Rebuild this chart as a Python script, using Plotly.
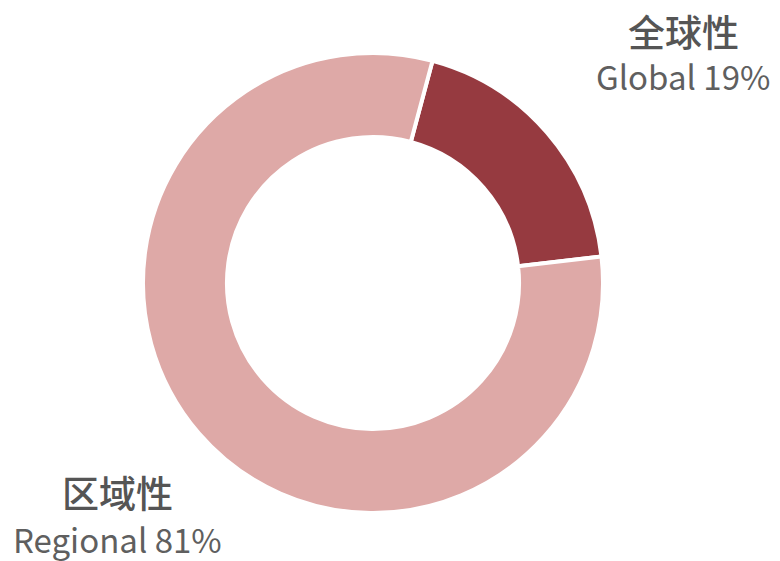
import plotly.graph_objects as go

W, H = 780, 561
OFF = 8  # page offset of the plot in the browser
labels = ["Global", "Regional"]
cn_labels = ["全球性", "区域性"]
values = [19, 81]
colors = ["#963A40", "#DEA9A7"]

cx, cy, R = 373 - OFF, 283 - OFF, 230


def px_x(x):
    return x / W


def px_y(y):
    return 1 - y / H


fig = go.Figure(go.Pie(
    labels=labels, values=values, hole=0.635, sort=False,
    direction="clockwise", rotation=15,
    marker=dict(colors=colors, line=dict(color="white", width=4)),
    textinfo="none", hoverinfo="label+percent", showlegend=False,
    domain=dict(x=[px_x(cx - R), px_x(cx + R)], y=[px_y(cy + R), px_y(cy - R)]),
))

font = "Noto Sans CJK SC, Noto Sans, sans-serif"
pos = [(683, 31, 76), (117, 492, 539)]
for i, (px, y1, y2) in enumerate(pos):
    fig.add_annotation(x=px_x(px - OFF), y=px_y(y1 - OFF), xref="paper", yref="paper",
                       text=cn_labels[i], showarrow=False,
                       font=dict(family=font, size=37, color="#555555", weight=500),
                       xanchor="center", yanchor="middle", borderpad=0)
    fig.add_annotation(x=px_x(px - OFF), y=px_y(y2 - OFF), xref="paper", yref="paper",
                       text=f"{labels[i]} {values[i]}%", showarrow=False,
                       font=dict(family=font, size=33, color="#5f5f5f"),
                       xanchor="center", yanchor="middle", borderpad=0)

fig.update_layout(width=W, height=H, margin=dict(l=0, r=0, t=0, b=0),
                  paper_bgcolor="white", plot_bgcolor="white")
fig.write_html("out.html")
